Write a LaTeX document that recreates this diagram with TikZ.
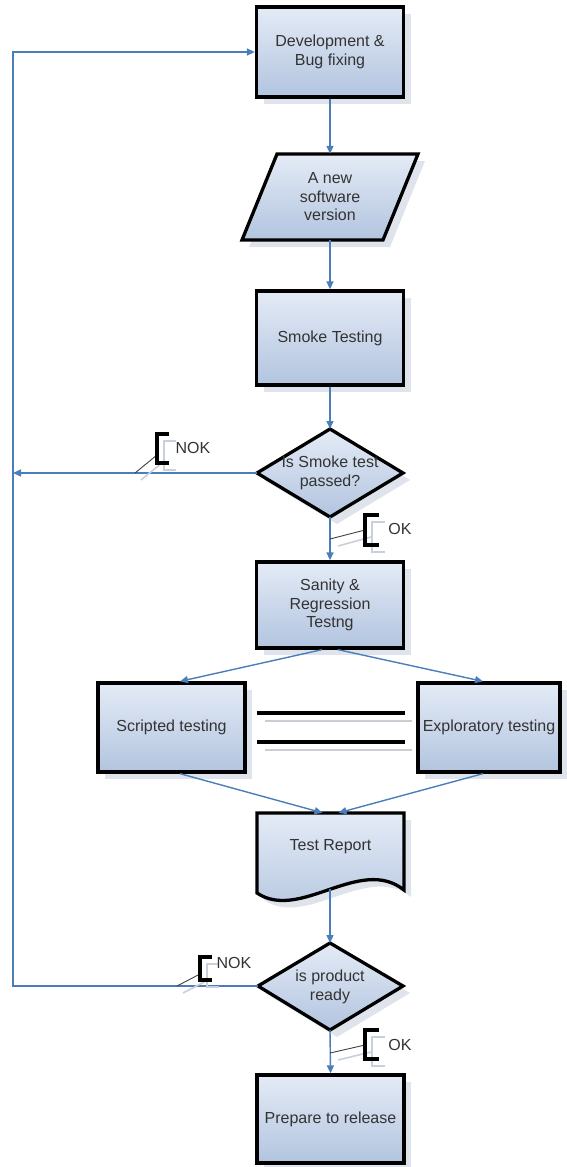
\documentclass[tikz,border=0pt]{standalone}
\usepackage{fontspec}
\setmainfont{Liberation Sans}
\usetikzlibrary{arrows.meta,shadows}
\definecolor{fillt}{HTML}{E4EBF6}
\definecolor{fillb}{HTML}{B2C4DF}
\definecolor{shadc}{HTML}{DFE4EC}
\definecolor{linec}{HTML}{4A7EBB}
\definecolor{txtc}{HTML}{333333}
\definecolor{brks}{HTML}{C8D0DC}
\begin{document}
\begin{tikzpicture}[x=1pt,y=-1pt,
  lab/.style={font=\fontsize{16}{18.5}\selectfont, text=txtc, align=center},
  shp/.style={draw=black, line width=3.3pt, line join=miter, top color=fillt, bottom color=fillb,
    general shadow={fill=shadc, shadow xshift=7pt, shadow yshift=-7pt}},
  box/.style={shp, lab, rectangle, minimum width=147pt, inner sep=0pt},
  ghost/.style={lab, inner sep=0pt},
  conn/.style={draw=linec, line width=1.4pt, -{Triangle[length=8pt,width=7pt]}},
  brk/.style={draw=black, line width=3.3pt},
  brkshadow/.style={draw=brks, line width=1.6pt},
  leader/.style={draw=black!75, line width=0.9pt},
  dbl/.style={draw=black, line width=3.6pt},
  dblshadow/.style={draw=shadc!90!black, line width=2.8pt},
]
\useasboundingbox (0,0) rectangle (566,1167);

% shapes
\node[box, minimum height=90pt] (dev) at (330,52) {Development \&\\Bug fixing};

\coordinate (pbl) at (242,240);
\coordinate (ptl) at (277,154);
\coordinate (ptr) at (418,154);
\coordinate (pbr) at (383,240);
\path[shp] (pbl) -- (ptl) -- (ptr) -- (pbr) -- cycle;
\node[ghost, minimum height=86pt] (ver) at (330,197) {A new\\software\\version};

\node[box, minimum height=94pt] (smoke) at (330,338) {Smoke Testing};

\coordinate (d1w) at (257,473);
\coordinate (d1n) at (330,429);
\coordinate (d1e) at (403,473);
\coordinate (d1s) at (330,517);
\path[shp] (d1w) -- (d1n) -- (d1e) -- (d1s) -- cycle;
\node[ghost] (d1) at (330,473) {Is Smoke test\\passed?};

\node[box, minimum height=86pt] (san) at (330,605) {Sanity \&\\Regression\\Testng};
\node[box, minimum height=89pt] (scr) at (171.5,727.5) {Scripted testing};
\node[box, minimum width=142pt, minimum height=89pt] (exp) at (489,727.5) {Exploratory testing};

\draw[dblshadow] (265,721) -- (412,721);
\draw[dblshadow] (265,750) -- (412,750);
\draw[dbl] (257,713) -- (405,713);
\draw[dbl] (257,742) -- (405,742);

\path[shp] (257,813) -- (404,813) -- (404,890) .. controls (360,855) and (300,922) .. (257,893) -- cycle;
\node[ghost, minimum width=147pt, minimum height=68pt] (rep) at (330.5,847) {Test Report};
\coordinate (repb) at (330,889);

\coordinate (d2w) at (258,986);
\coordinate (d2n) at (330,943);
\coordinate (d2e) at (403,986);
\coordinate (d2s) at (330,1030);
\path[shp] (d2w) -- (d2n) -- (d2e) -- (d2s) -- cycle;
\node[ghost] (d2) at (330,987) {is product\\ready};

\node[box, minimum height=88pt] (rel) at (330.5,1119) {Prepare to release};

% connectors
\coordinate (lm) at (13,473);
\coordinate (lb) at (13,986);
\coordinate (lt) at (13,52);
\draw[conn] (dev.south) -- (ver.north);
\draw[conn] (ver.south) -- (smoke.north);
\draw[conn] (smoke.south) -- (d1n);
\draw[conn] (d1s) -- (san.north);
\draw[conn] ([xshift=-8pt]san.south) -- ([xshift=8.5pt]scr.north);
\draw[conn] ([xshift=8pt]san.south) -- ([xshift=-6pt]exp.north);
\draw[conn] ([xshift=8.5pt]scr.south) -- ([xshift=-8pt]rep.north);
\draw[conn] ([xshift=-6pt]exp.south) -- ([xshift=8pt]rep.north);
\draw[conn] (repb) -- (d2n);
\draw[conn] (d2s) -- (rel.north);
\draw[conn] (d1w) -- (lm);
\draw[conn] (d2w) -- (lb) -- (lt) -- (dev.west);

% labels: NOK 1
\coordinate (n1a) at (135,473);
\coordinate (n1b) at (157,455);
\draw[brkshadow] (141,480) -- (163,462);
\draw[leader] (n1a) -- (n1b);
\draw[brkshadow] (176,441) -- (164,441) -- (164,470) -- (176,470);
\draw[brk] (169,434) -- (157,434) -- (157,463) -- (169,463);
\node[lab] (nok1) at (193,448) {NOK};

% NOK 2
\coordinate (n2a) at (177,986);
\coordinate (n2b) at (200,974);
\draw[brkshadow] (183,993) -- (206,981);
\draw[leader] (n2a) -- (n2b);
\draw[brkshadow] (219,964) -- (207,964) -- (207,987) -- (219,987);
\draw[brk] (212,957) -- (200,957) -- (200,980) -- (212,980);
\node[lab] (nok2) at (234,963) {NOK};

% OK 1
\coordinate (o1a) at (330,539);
\coordinate (o1b) at (365,530);
\draw[brkshadow] (338,546) -- (371,537);
\draw[leader] (o1a) -- (o1b);
\draw[brkshadow] (385,522) -- (372,522) -- (372,552) -- (385,552);
\draw[brk] (379,515) -- (365,515) -- (365,545) -- (379,545);
\node[lab] (ok1) at (400,529) {OK};

% OK 2
\coordinate (o2a) at (330,1053);
\coordinate (o2b) at (365,1045);
\draw[brkshadow] (338,1060) -- (371,1052);
\draw[leader] (o2a) -- (o2b);
\draw[brkshadow] (385,1037) -- (372,1037) -- (372,1066) -- (385,1066);
\draw[brk] (379,1030) -- (365,1030) -- (365,1059) -- (379,1059);
\node[lab] (ok2) at (400,1045) {OK};
\end{tikzpicture}
\end{document}
